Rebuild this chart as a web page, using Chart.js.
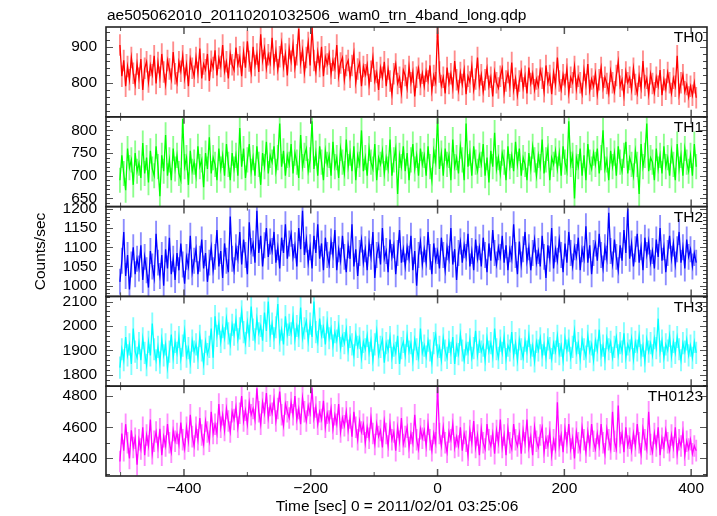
<!DOCTYPE html>
<html><head><meta charset="utf-8">
<script src="https://cdn.jsdelivr.net/npm/chart.js@4/dist/chart.umd.min.js"></script>
<style>html,body{margin:0;padding:0;background:#fff;overflow:hidden}</style>
</head><body>
<canvas id="c" width="717" height="516"></canvas>
<script>
const chartTitle = "ae505062010_20110201032506_wam0_trn_4band_long.qdp";
const xTitle = "Time [sec] 0 = 2011/02/01 03:25:06";
const yTitle = "Counts/sec";
const bandNames = ["TH0", "TH1", "TH2", "TH3", "TH0123"];
const binStart = -501, binSize = 3;

const th0 = [905,818,862,790,845,808,870,826,795,852,
812,866,780,840,858,802,848,822,875,798,
856,815,880,830,795,862,838,810,885,825,
800,858,832,875,812,850,790,866,840,818,
870,828,895,812,852,836,880,805,860,842,
890,820,868,845,905,832,858,812,880,850,
835,898,850,872,818,885,842,915,860,828,
900,848,880,830,935,862,895,840,878,855,
925,850,888,836,872,910,845,880,820,895,
860,905,842,878,950,855,890,828,870,912,
848,955,862,830,885,845,900,818,872,852,
880,825,862,840,905,818,855,870,808,848,
862,815,848,882,800,838,856,790,845,822,
850,795,832,870,805,828,780,842,815,858,
790,838,805,768,825,852,798,815,772,835,
820,785,845,800,830,762,815,840,795,826,
790,832,805,848,778,820,800,955,830,792,
815,770,842,798,825,785,860,808,778,828,
795,835,768,818,802,845,780,810,870,792,
822,775,808,840,790,815,762,830,800,785,
818,840,772,805,828,790,856,780,812,765,
805,832,785,818,770,842,798,825,780,810,
790,835,812,775,848,800,820,768,828,795,
870,805,780,822,795,838,772,815,800,845,
782,818,800,770,835,795,852,778,810,790,
825,768,808,842,785,815,798,770,832,800,
775,820,858,790,808,765,830,800,815,780,
840,795,770,818,785,860,792,812,768,825,
798,772,815,790,835,765,808,782,828,800,
770,812,790,875,768,800,822,775,795,760,
790,765,800,758];
const th1 = [690,745,705,668,760,718,735,680,750,710,
728,695,772,705,740,685,755,715,700,765,
720,655,745,710,790,700,735,690,760,715,
745,705,690,825,720,740,680,755,710,730,
700,765,720,735,675,750,715,785,705,740,
725,690,760,715,745,700,770,725,690,750,
715,745,700,805,720,760,695,735,770,710,
740,700,765,725,680,750,720,775,705,745,
730,765,710,740,815,720,755,700,745,725,
770,705,750,730,695,790,720,745,760,710,
735,820,715,750,700,765,730,690,755,725,
745,700,775,720,740,695,760,730,705,780,
720,750,710,765,690,745,725,800,710,740,
700,760,730,715,770,690,740,725,755,705,
740,715,780,700,735,760,660,745,720,765,
710,750,690,735,770,715,745,700,760,725,
745,700,765,720,690,755,730,825,715,750,
700,760,725,745,690,780,720,740,705,765,
735,690,815,720,750,700,765,730,710,745,
725,770,700,740,685,755,720,795,715,740,
705,750,730,690,765,720,745,710,775,725,
760,700,740,725,690,750,715,765,735,700,
745,720,780,705,735,760,690,740,725,755,
715,750,700,765,730,710,820,725,745,650,
740,720,760,700,745,690,770,730,715,750,
725,760,705,740,800,715,735,690,755,720,
750,700,765,730,710,745,775,705,740,725,
700,755,725,660,770,720,745,815,710,740,
730,690,760,715,745,705,765,720,740,700,
755,725,690,770,715,745,700,760,730,710,
745,700,770,720];
const th2 = [1010,1065,1140,1025,1080,990,1055,1100,1030,1070,
1045,1105,1015,1075,1040,995,1090,1050,1020,1135,
1060,1025,1080,1000,1095,1045,1125,1030,1070,1015,
1085,1040,1110,1055,1005,1075,1050,1130,1035,1065,
1095,1030,1070,1120,1045,1085,1010,1060,1100,1040,
1075,1145,1050,1090,1020,1110,1065,1035,1180,1070,
1040,1100,1070,1140,1055,1120,1080,1030,1165,1090,
1110,1060,1195,1085,1130,1050,1105,1150,1075,1115,
1090,1140,1060,1100,1045,1125,1085,1160,1070,1110,
1135,1075,1105,1050,1150,1095,1195,1080,1120,1060,
1100,1045,1130,1085,1160,1070,1110,1040,1125,1080,
1055,1115,1080,1145,1040,1095,1065,1130,1075,1035,
1105,1070,1160,1050,1095,1025,1085,1120,1060,1095,
1040,1110,1075,1140,1020,1080,1105,1055,1150,1070,
1090,1035,1120,1075,1105,1030,1085,1145,1060,1095,
1050,1100,1070,1130,1040,1090,1000,1080,1115,1055,
1095,1060,1140,1075,1030,1110,1065,1090,1045,1125,
1080,1040,1100,1070,1150,1055,1095,1015,1085,1115,
1060,1105,1075,1135,1050,1090,1040,1120,1070,1100,
1050,1125,1080,1035,1110,1065,1145,1085,1055,1100,
1075,1130,1060,1105,1040,1095,1070,1160,1080,1030,
1115,1055,1095,1140,1065,1100,1040,1085,1120,1060,
1090,1050,1130,1075,1020,1105,1070,1150,1045,1095,
1065,1120,1080,1035,1110,1060,1140,1085,1050,1100,
1075,1125,1040,1095,1070,1155,1060,1105,1030,1085,
1110,1065,1135,1080,1045,1100,1070,1190,1090,1055,
1120,1075,1040,1105,1065,1145,1085,1200,1070,1110,
1050,1095,1135,1060,1100,1040,1125,1080,1115,1060,
1090,1045,1120,1075,1150,1065,1100,1035,1085,1130,
1070,1110,1055,1095,1140,1060,1100,1045,1120,1075,
1095,1050,1085,1060];
const th3 = [1830,1905,1860,1955,1880,1925,1845,1990,1895,1870,
1930,1860,1950,1890,1840,1935,1880,2010,1905,1860,
1915,1850,1945,1880,1925,1830,1895,1965,1870,1935,
1890,1955,1865,1920,1980,1875,1910,1850,1940,1895,
1925,1870,1960,1900,1845,1935,1885,1915,1990,1870,
2040,1960,2010,1935,1995,1950,2030,1970,1925,2005,
1965,2025,1945,1990,2060,1975,1930,2015,1960,2080,
1985,1945,2030,1970,2000,1940,2055,1980,2100,1960,
2010,1950,1995,2090,1940,1985,1925,2040,1965,2005,
1970,2035,1945,2000,1960,2075,1950,1990,2020,1940,
2010,1955,2100,1975,1935,2030,1960,1995,1925,2015,
1950,1990,1920,1975,1940,2000,1910,1960,1930,1985,
1900,1955,1925,1880,1965,1915,1950,1870,1935,1905,
1960,1890,1940,1860,1925,1980,1880,1915,1945,1850,
1930,1900,1955,1870,1920,1890,1960,1845,1910,1935,
1880,1960,1895,1930,1860,1945,1905,1870,1990,1890,
1920,1875,1940,1900,1850,1930,1965,1880,1915,1860,
1950,1900,1870,1935,1890,1955,1845,1920,1885,1965,
1900,1860,1925,1890,1945,1870,1910,1980,1880,1935,
1895,1920,1860,1950,1895,1930,1875,1990,1905,1870,
1940,1890,1955,1865,1920,1900,1975,1880,1930,1860,
1945,1905,1870,1940,1895,1960,1880,1920,1855,1935,
1900,1950,1880,1925,1870,1945,1910,1865,1930,1895,
1960,1885,1920,1860,1950,1900,1940,1870,1915,1980,
1890,1930,1865,1945,1905,1875,1960,1895,1925,1860,
1940,1900,1985,1880,1920,1865,1950,1905,1935,1870,
1915,1955,1880,1930,1895,1970,1870,1925,1900,1950,
1865,1935,1900,1960,1880,1920,1855,1945,1895,1930,
1880,1950,1910,2030,1895,1940,1870,1925,1900,1960,
1875,1935,1890,1955,1905,1860,1930,1895,1945,1880,
1920,1870,1935,1890];
const th0123 = [4380,4560,4450,4620,4500,4400,4580,4470,4530,4360,
4520,4460,4600,4420,4550,4480,4650,4430,4510,4570,
4470,4590,4420,4540,4480,4620,4500,4440,4580,4510,
4560,4490,4630,4520,4460,4600,4510,4680,4540,4480,
4600,4520,4660,4550,4490,4640,4570,4510,4700,4560,
4620,4560,4750,4600,4680,4580,4720,4640,4570,4700,
4650,4730,4600,4690,4800,4640,4710,4620,4760,4680,
4720,4650,4850,4700,4620,4760,4690,4820,4660,4740,
4690,4780,4640,4720,4830,4680,4610,4750,4700,4660,
4760,4680,4800,4650,4720,4620,4790,4700,4640,4740,
4690,4850,4660,4730,4620,4700,4650,4770,4600,4690,
4640,4720,4590,4680,4620,4750,4570,4660,4610,4700,
4580,4660,4540,4700,4600,4520,4640,4570,4620,4500,
4600,4530,4660,4560,4490,4620,4540,4580,4470,4640,
4560,4480,4620,4520,4570,4450,4600,4510,4660,4490,
4540,4600,4470,4560,4500,4680,4520,4460,4590,4530,
4580,4480,4620,4520,4450,4560,4500,4860,4560,4480,
4600,4500,4440,4570,4520,4620,4470,4540,4480,4600,
4450,4560,4510,4420,4580,4500,4640,4470,4550,4420,
4590,4500,4460,4620,4520,4480,4560,4430,4580,4500,
4650,4470,4550,4420,4590,4500,4460,4620,4520,4480,
4560,4430,4580,4500,4650,4470,4540,4420,4600,4510,
4470,4550,4600,4440,4530,4480,4570,4420,4520,4460,
4760,4480,4550,4440,4590,4500,4620,4460,4530,4400,
4570,4500,4450,4600,4520,4440,4570,4480,4620,4510,
4460,4560,4480,4620,4500,4430,4590,4520,4460,4700,
4510,4460,4740,4500,4560,4440,4600,4480,4530,4450,
4560,4480,4620,4500,4430,4590,4520,4460,4700,4490,
4440,4560,4480,4600,4420,4530,4470,4580,4500,4450,
4550,4470,4600,4430,4520,4480,4570,4420,4510,4460,
4520,4430,4480,4450];

// 1-sigma error per bin (counts/sec)
const th0Err = 29, th1Err = 27, th2Err = 33, th3Err = 44, th0123Err = 67;

const xTicks = [-400, -200, 0, 200, 400];
const xMinorTicks = [-500, -300, -100, 100, 300];
const th0Ticks = [800, 900];
const th1Ticks = [650, 700, 750, 800];
const th2Ticks = [1000, 1050, 1100, 1150, 1200];
const th3Ticks = [1800, 1900, 2000, 2100];
const th0123Ticks = [4400, 4600, 4800];

const times = th0.map((_, i) => binStart + i * binSize);

const FONT = "'Liberation Sans', Arial, Helvetica, sans-serif";
const FS = 15.5;

const panels = [
  {vals: th0, err: th0Err, ticks: th0Ticks, min: 705, max: 955, minor: 20, color: '#ff0000', light: 'rgba(255,0,0,0.45)'},
  {vals: th1, err: th1Err, ticks: th1Ticks, min: 632, max: 830, minor: 10, color: '#00ff00', light: 'rgba(0,255,0,0.45)'},
  {vals: th2, err: th2Err, ticks: th2Ticks, min: 972, max: 1206, minor: 10, color: '#0000ff', light: 'rgba(0,0,255,0.45)'},
  {vals: th3, err: th3Err, ticks: th3Ticks, min: 1754, max: 2121, minor: 20, color: '#00ffff', light: 'rgba(0,255,255,0.5)'},
  {vals: th0123, err: th0123Err, ticks: th0123Ticks, min: 4287, max: 4864, minor: 100, color: '#ff00ff', light: 'rgba(255,0,255,0.45)'}
];

const datasets = [];
panels.forEach((p, i) => {
  datasets.push({
    type: 'line', yAxisID: 'y' + i, order: 0,
    data: times.map((t, k) => ({x: t, y: p.vals[k]})),
    borderColor: p.color, borderWidth: 1.3, pointRadius: 0, tension: 0, fill: false
  });
  datasets.push({
    type: 'bar', yAxisID: 'y' + i, order: 1, grouped: false,
    data: times.map((t, k) => ({x: t, y: [p.vals[k] - p.err, p.vals[k] + p.err]})),
    backgroundColor: p.light, borderWidth: 0, barThickness: 1.2
  });
});

const scales = {
  x: {
    type: 'linear', min: -523, max: 425, offset: false,
    grid: {display: false, drawTicks: false}, border: {display: false},
    afterBuildTicks: s => { s.ticks = xTicks.map(v => ({value: v})); },
    afterFit: s => { s.height = 40; },
    ticks: {
      padding: 3, color: '#000', autoSkip: false, maxRotation: 0,
      font: {family: FONT, size: FS},
      callback: v => (v < 0 ? '\u2212' + Math.abs(v) : String(v))
    }
  }
};
for (let i = panels.length - 1; i >= 0; i--) {
  const p = panels[i];
  scales['y' + i] = {
    type: 'linear', position: 'left', stack: 'panels', stackWeight: 1,
    min: p.min, max: p.max,
    grid: {display: false, drawTicks: false}, border: {display: false},
    afterBuildTicks: s => { s.ticks = p.ticks.map(v => ({value: v})); },
    afterFit: s => { s.width = 106; },
    ticks: {padding: 9, color: '#000', autoSkip: false, includeBounds: false,
      font: {family: FONT, size: FS}, callback: v => String(v)}
  };
}

const panelPlugin = {
  id: 'panels',
  beforeDatasetDraw(chart, args) {
    const ys = chart.scales[args.meta.yAxisID];
    const ca = chart.chartArea, ctx = chart.ctx;
    ctx.save();
    ctx.beginPath();
    ctx.rect(ca.left, ys.top, ca.right - ca.left, ys.bottom - ys.top);
    ctx.clip();
  },
  afterDatasetDraw(chart) { chart.ctx.restore(); },
  afterDraw(chart) {
    const ctx = chart.ctx, ca = chart.chartArea, xs = chart.scales.x;
    ctx.save();
    const seg = (x1, y1, x2, y2) => { ctx.beginPath(); ctx.moveTo(x1, y1); ctx.lineTo(x2, y2); ctx.stroke(); };
    panels.forEach((p, i) => {
      const ys = chart.scales['y' + i];
      const top = ys.top, bot = ys.bottom;
      ctx.strokeStyle = '#555';
      ctx.lineWidth = 1.5;
      xTicks.forEach(v => { const px = xs.getPixelForValue(v); seg(px, top, px, top + 7); seg(px, bot, px, bot - 7); });
      ctx.lineWidth = 1;
      xMinorTicks.forEach(v => { const px = xs.getPixelForValue(v); seg(px, top, px, top + 4); seg(px, bot, px, bot - 4); });
      const start = Math.ceil(p.min / p.minor) * p.minor;
      for (let v = start; v <= p.max; v += p.minor) {
        const py = Math.round(ys.getPixelForValue(v)) + 0.5;
        const major = p.ticks.includes(v);
        const len = major ? 7 : 4;
        ctx.strokeStyle = major ? '#555' : '#444';
        seg(ca.left, py, ca.left + len, py);
        seg(ca.right, py, ca.right - len, py);
      }
      ctx.strokeStyle = '#222';
      ctx.lineWidth = 1.6;
      ctx.strokeRect(ca.left, top, ca.right - ca.left, bot - top);
      ctx.fillStyle = '#000';
      ctx.font = FS + 'px ' + FONT;
      ctx.textAlign = 'right';
      ctx.textBaseline = 'middle';
      ctx.fillText(bandNames[i], ca.right - 4, top + 11);
    });
    ctx.fillStyle = '#000';
    ctx.font = FS + 'px ' + FONT;
    ctx.textAlign = 'left';
    ctx.textBaseline = 'alphabetic';
    ctx.fillText(chartTitle, ca.left + 1, 20);
    ctx.textAlign = 'center';
    ctx.textBaseline = 'middle';
    ctx.fillText(xTitle, 397, 507);
    ctx.translate(41, (ca.top + ca.bottom) / 2);
    ctx.rotate(-Math.PI / 2);
    ctx.fillText(yTitle, 0, 0);
    ctx.restore();
  }
};

new Chart(document.getElementById('c'), {
  type: 'line',
  data: {datasets},
  options: {
    responsive: false, animation: false, devicePixelRatio: 1,
    layout: {padding: {top: 27, right: 10, bottom: 0, left: 0}},
    plugins: {legend: {display: false}, tooltip: {enabled: false}, title: {display: false}},
    scales
  },
  plugins: [panelPlugin]
});
</script>
</body></html>
